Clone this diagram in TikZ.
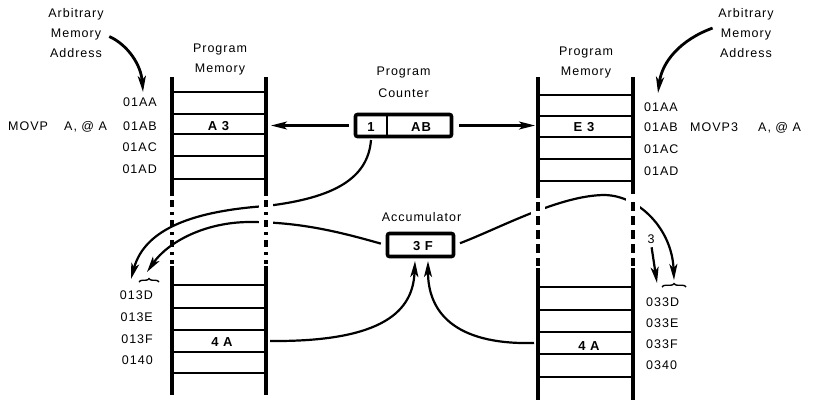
\documentclass[tikz,border=0pt]{standalone}
\usepackage{fontspec}
\setmainfont{Liberation Sans}[LetterSpace=8]
\usetikzlibrary{arrows.meta,decorations.pathreplacing}
\begin{document}
\begin{tikzpicture}[x=1pt,y=-1pt,
  font=\fontsize{12.5}{20}\selectfont,
  rail/.style={line width=3.2pt},
  rung/.style={line width=2.6pt},
  ddot/.style={rail, dash pattern=on 7pt off 5pt on 3pt off 5pt},
  ddash/.style={rail, dash pattern=on 9pt off 5pt},
  conn/.style={line width=2.2pt, -{Stealth[length=16pt,width=8pt,inset=4pt]}},
  reg/.style={draw, line width=3.6pt, rounded corners=2pt, inner sep=0pt},
  lbl/.style={inner sep=0pt},
  cell/.style={inner sep=0pt, font=\fontsize{13}{15}\selectfont\bfseries},
  gap/.style={fill=white, draw=none},
  brc/.style={line width=1.4pt, decorate, decoration={brace, amplitude=3.5pt}}]
\useasboundingbox (0,0) rectangle (816,402);

% ---------- left program memory ----------
\draw[rail] (172,77) -- (172,196);
\draw[rail] (266,77) -- (266,196);
\draw[rail] (172,266) -- (172,395);
\draw[rail] (266,266) -- (266,395);
\foreach \y in {92,114,134,156,179} \draw[rung] (172,\y) -- (266,\y);
\foreach \y in {285,308,330,352,373} \draw[rung] (172,\y) -- (266,\y);

% ---------- right program memory ----------
\draw[rail] (538,77) -- (538,198);
\draw[rail] (633,77) -- (633,198);
\draw[rail] (538,268) -- (538,400);
\draw[rail] (633,268) -- (633,400);
\foreach \y in {95,116,137,159,181} \draw[rung] (538,\y) -- (633,\y);
\foreach \y in {287,310,332,354,377} \draw[rung] (538,\y) -- (633,\y);

% ---------- headings ----------
\node[lbl, align=center, anchor=north] (arbL) at (76,8.5) {Arbitrary\\Memory\\Address};
\node[lbl, align=center, anchor=north] (arbR) at (746,8.5) {Arbitrary\\Memory\\Address};
\node[lbl, align=center, anchor=north] (pmL) at (220,43.5) {Program\\Memory};
\node[lbl, align=center, anchor=north] (pmR) at (586,47) {Program\\Memory};
\node[lbl, align=center, anchor=north, font=\fontsize{12.5}{22}\selectfont] (pcl) at (403.5,67) {Program\\Counter};
\node[lbl, anchor=base] (accl) at (421.5,221.7) {Accumulator};

% ---------- address labels ----------
\node[lbl, anchor=base east] (aL1) at (157,106) {01AA};
\node[lbl, anchor=base east] (aL2) at (157,130.7) {01AB};
\node[lbl, anchor=base east] (aL3) at (157,151.7) {01AC};
\node[lbl, anchor=base east] (aL4) at (157,173.3) {01AD};
\node[lbl, anchor=base west] (movL) at (8,130.7) {MOVP};
\node[lbl, anchor=base west] (opL) at (64,130.7) {A, @ A};
\node[lbl, anchor=base east] (bL1) at (153,299.3) {013D};
\node[lbl, anchor=base east] (bL2) at (153,321.7) {013E};
\node[lbl, anchor=base east] (bL3) at (153,343.3) {013F};
\node[lbl, anchor=base east] (bL4) at (153,364) {0140};

\node[lbl, anchor=base west] (aR1) at (644,111.7) {01AA};
\node[lbl, anchor=base west] (aR2) at (644,131) {01AB};
\node[lbl, anchor=base west] (aR3) at (644,153.3) {01AC};
\node[lbl, anchor=base west] (aR4) at (644,175) {01AD};
\node[lbl, anchor=base west] (movR) at (690,131) {MOVP3};
\node[lbl, anchor=base west] (opR) at (758,131) {A, @ A};
\node[lbl, anchor=base west] (bR1) at (646,306) {033D};
\node[lbl, anchor=base west] (bR2) at (646,327.7) {033E};
\node[lbl, anchor=base west] (bR3) at (646,348.3) {033F};
\node[lbl, anchor=base west] (bR4) at (646,369.3) {0340};

% ---------- cell contents ----------
\node[cell, anchor=base] (lA3) at (218.5,130.7) {A 3};
\node[cell, anchor=base] (rE3) at (584,131.7) {E 3};
\node[cell, anchor=base] (l4A) at (222,346.7) {4 A};
\node[cell, anchor=base] (r4A) at (589,350) {4 A};

% ---------- registers ----------
\node[reg, minimum width=96pt, minimum height=22pt] (pc) at (403.5,125.5) {};
\draw[line width=1.8pt] (387,114) -- (387,137);
\node[cell, anchor=base] (pcone) at (371,131.7) {1};
\node[cell, anchor=base] (pcab) at (421,131.7) {AB};
\node[reg, minimum width=66pt, minimum height=23pt] (acc) at (420.5,245) {};
\node[cell, anchor=base] (accv) at (423,250) {3 F};

% ---------- connection points ----------
\coordinate (lA3in) at (271,125.5);
\coordinate (rE3in) at (535,125.5);
\coordinate (pcbot) at (371,140);
\coordinate (lpage) at (131,279);
\coordinate (lacc) at (147,272);
\coordinate (rpage) at (674,280);
\coordinate (r3tip) at (657,283);
\coordinate (l4Aout) at (270,341);
\coordinate (r4Aout) at (534,343);
\coordinate (accinL) at (415,261);
\coordinate (accinR) at (428,261);
\coordinate (arbLtip) at (143,92);
\coordinate (arbRtip) at (658,93);

% ---------- connectors ----------
\draw[conn, shorten <=5pt] (pc.west) -- (lA3in);
\draw[conn, shorten <=6pt] (pc.east) -- (rE3in);
\draw[conn] (pcbot) .. controls (368,178) and (335,198) .. (266,206)
   .. controls (195,211) and (145,228) .. (lpage);
\draw[conn, shorten <=5pt] (acc.west) .. controls (340,232) and (300,222) .. (250,222)
   .. controls (205,222) and (168,242) .. (lacc);
\draw[conn, shorten <=5pt] (acc.east) .. controls (500,228) and (560,195) .. (605,195)
   .. controls (640,196) and (672,230) .. (rpage);
\draw[conn] (l4Aout) .. controls (385,342) and (413,310) .. (accinL);
\draw[conn] (r4Aout) .. controls (452,345) and (428,310) .. (accinR);
\draw[conn, line width=2.8pt, shorten <=6pt] (arbL.east |- 0,34) .. controls (128,45) and (141,65) .. (arbLtip);
\draw[conn, line width=2.8pt, shorten <=6pt] (arbR.west |- 0,26) .. controls (680,40) and (662,62) .. (arbRtip);
\node[lbl, anchor=base] (three) at (651,243) {3};
\draw[conn, shorten <=4pt] (three.south) -- (r3tip);

% braces
\draw[brc] (139,282) -- (159,282);
\draw[brc] (662,287) -- (686,287);

% ---------- gaps where curves cross the broken rails ----------
\fill[gap] (259,199) rectangle (273,213);
\fill[gap] (259,217) rectangle (273,230);
\fill[gap] (531,206) rectangle (545,220);
\fill[gap] (626,194) rectangle (640,209);

% ---------- broken rails ----------
\draw[ddot] (172,200) -- (172,264);
\draw[ddot] (266,200) -- (266,264);
\draw[ddash] (538,202) -- (538,266);
\draw[ddash] (633,202) -- (633,266);
\end{tikzpicture}
\end{document}
